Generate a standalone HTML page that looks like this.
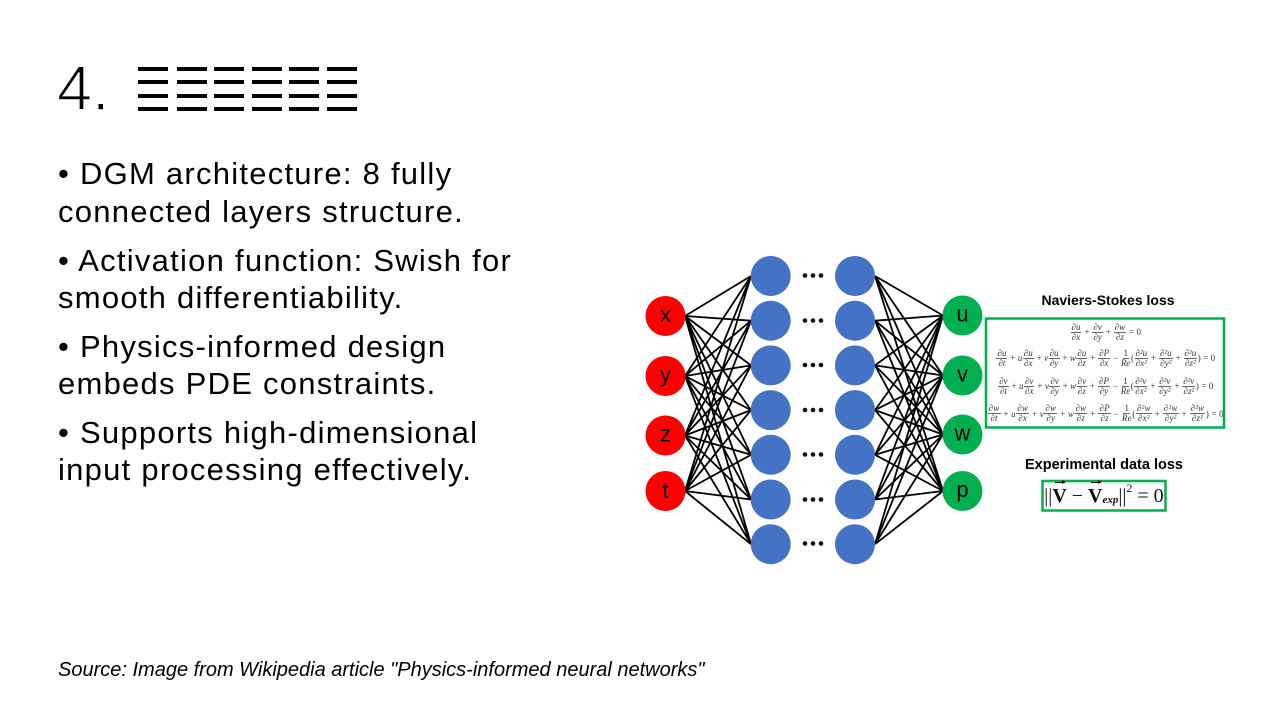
<!DOCTYPE html>
<html>
<head>
<meta charset="utf-8">
<style>
html,body{margin:0;padding:0;background:#fff;}
body{width:1280px;height:720px;position:relative;overflow:hidden;font-family:"Liberation Sans",sans-serif;color:#000;}
.title{position:absolute;left:57px;top:57.7px;font-size:63px;line-height:63px;white-space:nowrap;-webkit-text-stroke:1.5px #fff;}
.bar{position:absolute;width:30px;height:4px;background:#000;}
.p{position:absolute;left:58px;font-size:31px;line-height:37.5px;letter-spacing:1.25px;white-space:nowrap;}
.src{position:absolute;left:58px;top:657.8px;font-size:20px;line-height:24px;font-style:italic;white-space:nowrap;}
svg{position:absolute;left:0;top:0;}
.eq{position:absolute;left:987px;width:237px;height:19px;display:flex;justify-content:center;align-items:center;font-family:"Liberation Serif","DejaVu Serif",serif;font-style:italic;font-size:9px;color:#333;white-space:nowrap;}
.fr{display:inline-flex;flex-direction:column;align-items:center;line-height:9px;margin:0 0.5px;}
.fr span:first-child{border-bottom:0.7px solid #666;padding:0 1px;}
.o{font-style:normal;margin:0 2.4px;}
.hd{position:absolute;font-weight:bold;font-size:14px;line-height:16px;white-space:nowrap;text-align:center;}
.f2{position:absolute;left:1042px;top:481px;width:124px;height:30px;display:flex;align-items:center;justify-content:center;font-family:"Liberation Serif",serif;font-size:20px;white-space:nowrap;color:#111;}
.vec{position:relative;font-weight:bold;display:inline-block;}
.arr{position:absolute;left:3px;top:-3px;width:10px;height:1.2px;background:#111;}
.arr:after{content:"";position:absolute;right:-1px;top:-2px;border-left:4px solid #111;border-top:2.6px solid transparent;border-bottom:2.6px solid transparent;}
.sb{font-size:11px;font-weight:bold;font-style:italic;position:relative;top:4px;}
.sp{font-size:12px;position:relative;top:-8px;}
</style>
</head>
<body>

<div class="title">4.</div>
<div class="bar" style="left:138px;top:67px"></div><div class="bar" style="left:138px;top:80.3px"></div><div class="bar" style="left:138px;top:93.7px"></div><div class="bar" style="left:138px;top:107.3px"></div>
<div class="bar" style="left:176.7px;top:67px"></div><div class="bar" style="left:176.7px;top:80.3px"></div><div class="bar" style="left:176.7px;top:93.7px"></div><div class="bar" style="left:176.7px;top:107.3px"></div>
<div class="bar" style="left:213.5px;top:67px"></div><div class="bar" style="left:213.5px;top:80.3px"></div><div class="bar" style="left:213.5px;top:93.7px"></div><div class="bar" style="left:213.5px;top:107.3px"></div>
<div class="bar" style="left:251.5px;top:67px"></div><div class="bar" style="left:251.5px;top:80.3px"></div><div class="bar" style="left:251.5px;top:93.7px"></div><div class="bar" style="left:251.5px;top:107.3px"></div>
<div class="bar" style="left:288.5px;top:67px"></div><div class="bar" style="left:288.5px;top:80.3px"></div><div class="bar" style="left:288.5px;top:93.7px"></div><div class="bar" style="left:288.5px;top:107.3px"></div>
<div class="bar" style="left:326.5px;top:67px"></div><div class="bar" style="left:326.5px;top:80.3px"></div><div class="bar" style="left:326.5px;top:93.7px"></div><div class="bar" style="left:326.5px;top:107.3px"></div>

<div class="p" style="top:155px">• DGM architecture: 8 fully<br>connected layers structure.</div>
<div class="p" style="top:241.5px">• Activation function: Swish for<br>smooth differentiability.</div>
<div class="p" style="top:327.5px">• Physics-informed design<br>embeds PDE constraints.</div>
<div class="p" style="top:413.5px">• Supports high-dimensional<br>input processing effectively.</div>

<div class="src">Source: Image from Wikipedia article "Physics-informed neural networks"</div>

<svg width="1280" height="720" viewBox="0 0 1280 720">
  <g stroke="#000" stroke-width="1.8" fill="none">
    <path d="M685 316L751 276M685 316L751 320.7M685 316L751 365.4M685 316L751 410.1M685 316L751 454.8M685 316L751 499.5M685 316L751 544.2
             M685 376L751 276M685 376L751 320.7M685 376L751 365.4M685 376L751 410.1M685 376L751 454.8M685 376L751 499.5M685 376L751 544.2
             M685 435.5L751 276M685 435.5L751 320.7M685 435.5L751 365.4M685 435.5L751 410.1M685 435.5L751 454.8M685 435.5L751 499.5M685 435.5L751 544.2
             M685 491L751 276M685 491L751 320.7M685 491L751 365.4M685 491L751 410.1M685 491L751 454.8M685 491L751 499.5M685 491L751 544.2"/>
    <path d="M875 276L943 315.5M875 276L943 375.5M875 276L943 434.5M875 276L943 491
             M875 320.7L943 315.5M875 320.7L943 375.5M875 320.7L943 434.5M875 320.7L943 491
             M875 365.4L943 315.5M875 365.4L943 375.5M875 365.4L943 434.5M875 365.4L943 491
             M875 410.1L943 315.5M875 410.1L943 375.5M875 410.1L943 434.5M875 410.1L943 491
             M875 454.8L943 315.5M875 454.8L943 375.5M875 454.8L943 434.5M875 454.8L943 491
             M875 499.5L943 315.5M875 499.5L943 375.5M875 499.5L943 434.5M875 499.5L943 491
             M875 544.2L943 315.5M875 544.2L943 375.5M875 544.2L943 434.5M875 544.2L943 491"/>
  </g>
  <g fill="#ff0000">
    <circle cx="665.5" cy="316" r="20"/>
    <circle cx="665.5" cy="376" r="20"/>
    <circle cx="665.5" cy="435.5" r="20"/>
    <circle cx="665.5" cy="491" r="20"/>
  </g>
  <g fill="#4472c4">
    <circle cx="770.7" cy="276" r="20"/><circle cx="770.7" cy="320.7" r="20"/><circle cx="770.7" cy="365.4" r="20"/><circle cx="770.7" cy="410.1" r="20"/><circle cx="770.7" cy="454.8" r="20"/><circle cx="770.7" cy="499.5" r="20"/><circle cx="770.7" cy="544.2" r="20"/>
    <circle cx="855" cy="276" r="20"/><circle cx="855" cy="320.7" r="20"/><circle cx="855" cy="365.4" r="20"/><circle cx="855" cy="410.1" r="20"/><circle cx="855" cy="454.8" r="20"/><circle cx="855" cy="499.5" r="20"/><circle cx="855" cy="544.2" r="20"/>
  </g>
  <g fill="#00b050">
    <circle cx="962.5" cy="315.5" r="20"/>
    <circle cx="962.5" cy="375.5" r="20"/>
    <circle cx="962.5" cy="434.5" r="20"/>
    <circle cx="962.5" cy="491" r="20"/>
  </g>
  <g fill="#111">
    <circle cx="805" cy="275.5" r="2.3"/><circle cx="813" cy="275.5" r="2.3"/><circle cx="821" cy="275.5" r="2.3"/>
    <circle cx="805" cy="320.5" r="2.3"/><circle cx="813" cy="320.5" r="2.3"/><circle cx="821" cy="320.5" r="2.3"/>
    <circle cx="805" cy="365" r="2.3"/><circle cx="813" cy="365" r="2.3"/><circle cx="821" cy="365" r="2.3"/>
    <circle cx="805" cy="410" r="2.3"/><circle cx="813" cy="410" r="2.3"/><circle cx="821" cy="410" r="2.3"/>
    <circle cx="805" cy="454.5" r="2.3"/><circle cx="813" cy="454.5" r="2.3"/><circle cx="821" cy="454.5" r="2.3"/>
    <circle cx="805" cy="499.5" r="2.3"/><circle cx="813" cy="499.5" r="2.3"/><circle cx="821" cy="499.5" r="2.3"/>
    <circle cx="805" cy="543.5" r="2.3"/><circle cx="813" cy="543.5" r="2.3"/><circle cx="821" cy="543.5" r="2.3"/>
  </g>
  <g font-family="Liberation Sans, sans-serif" font-size="22" fill="#000" text-anchor="middle">
    <text x="665.5" y="322">x</text>
    <text x="665.5" y="382">y</text>
    <text x="665.5" y="441.5">z</text>
    <text x="665.5" y="498">t</text>
    <text x="962.5" y="321.5">u</text>
    <text x="962.5" y="381.5">v</text>
    <text x="962.5" y="440.5">w</text>
    <text x="962.5" y="497">p</text>
  </g>
  <rect x="986" y="318.5" width="238" height="109" fill="none" stroke="#00b050" stroke-width="2.5"/>
  <rect x="1042.5" y="481" width="123" height="29.5" fill="none" stroke="#00b050" stroke-width="2.5"/>
</svg>

<div class="hd" style="left:1008px;top:292px;width:200px;">Naviers-Stokes loss</div>
<div class="hd" style="left:1004px;top:457px;width:200px;font-size:14.5px;">Experimental data loss</div>

<div class="eq" style="top:322.5px"><span class="fr"><span>∂u</span><span>∂x</span></span><span class="o">+</span><span class="fr"><span>∂v</span><span>∂y</span></span><span class="o">+</span><span class="fr"><span>∂w</span><span>∂z</span></span><span class="o">=</span><span style="font-style:normal">0</span></div>

<div class="eq" style="top:348.5px"><span class="fr"><span>∂u</span><span>∂t</span></span><span class="o">+</span>u<span class="fr"><span>∂u</span><span>∂x</span></span><span class="o">+</span>v<span class="fr"><span>∂u</span><span>∂y</span></span><span class="o">+</span>w<span class="fr"><span>∂u</span><span>∂z</span></span><span class="o">+</span><span class="fr"><span>∂P</span><span>∂x</span></span><span class="o">−</span><span class="fr"><span style="font-style:normal">1</span><span>Re</span></span><span style="font-style:normal">(</span><span class="fr"><span>∂²u</span><span>∂x²</span></span><span class="o">+</span><span class="fr"><span>∂²u</span><span>∂y²</span></span><span class="o">+</span><span class="fr"><span>∂²u</span><span>∂z²</span></span><span style="font-style:normal">)</span><span class="o">=</span><span style="font-style:normal">0</span></div>

<div class="eq" style="top:376.5px"><span class="fr"><span>∂v</span><span>∂t</span></span><span class="o">+</span>u<span class="fr"><span>∂v</span><span>∂x</span></span><span class="o">+</span>v<span class="fr"><span>∂v</span><span>∂y</span></span><span class="o">+</span>w<span class="fr"><span>∂v</span><span>∂z</span></span><span class="o">+</span><span class="fr"><span>∂P</span><span>∂y</span></span><span class="o">−</span><span class="fr"><span style="font-style:normal">1</span><span>Re</span></span><span style="font-style:normal">(</span><span class="fr"><span>∂²v</span><span>∂x²</span></span><span class="o">+</span><span class="fr"><span>∂²v</span><span>∂y²</span></span><span class="o">+</span><span class="fr"><span>∂²v</span><span>∂z²</span></span><span style="font-style:normal">)</span><span class="o">=</span><span style="font-style:normal">0</span></div>

<div class="eq" style="top:404px;letter-spacing:0.2px"><span class="fr"><span>∂w</span><span>∂t</span></span><span class="o">+</span>u<span class="fr"><span>∂w</span><span>∂x</span></span><span class="o">+</span>v<span class="fr"><span>∂w</span><span>∂y</span></span><span class="o">+</span>w<span class="fr"><span>∂w</span><span>∂z</span></span><span class="o">+</span><span class="fr"><span>∂P</span><span>∂z</span></span><span class="o">−</span><span class="fr"><span style="font-style:normal">1</span><span>Re</span></span><span style="font-style:normal">(</span><span class="fr"><span>∂²w</span><span>∂x²</span></span><span class="o">+</span><span class="fr"><span>∂²w</span><span>∂y²</span></span><span class="o">+</span><span class="fr"><span>∂²w</span><span>∂z²</span></span><span style="font-style:normal">)</span><span class="o">=</span><span style="font-style:normal">0</span></div>

<div class="f2">||<span class="vec">V<span class="arr"></span></span>&nbsp;−&nbsp;<span class="vec">V<span class="arr"></span></span><span class="sb">exp</span>||<span class="sp">2</span>&nbsp;=&nbsp;0</div>

</body>
</html>
